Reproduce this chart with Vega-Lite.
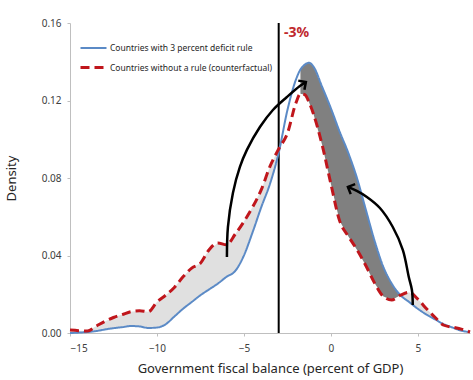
{
  "$schema": "https://vega.github.io/schema/vega-lite/v6.json",
  "width": 400,
  "height": 310,
  "autosize": "none",
  "padding": {"left": 70, "top": 23, "right": 3, "bottom": 47},
  "background": "white",
  "config": {
    "view": {"stroke": null},
    "font": "Noto Sans",
    "axis": {"grid": false, "domainColor": "#bfbfbf", "tickColor": "#bfbfbf", "labelColor": "#404040", "labelFont": "Noto Sans", "titleFont": "Noto Sans", "titleFontWeight": "normal", "titleColor": "#262626"}
  },
  "datasets": {
    "dens": [
      {"x": -15, "with": 0.0000, "without": 0.0015},
      {"x": -14.5, "with": 0.0002, "without": 0.0012},
      {"x": -14, "with": 0.0005, "without": 0.0010},
      {"x": -13.5, "with": 0.0010, "without": 0.0035},
      {"x": -13, "with": 0.0018, "without": 0.0060},
      {"x": -12.5, "with": 0.0025, "without": 0.0080},
      {"x": -12, "with": 0.0030, "without": 0.0095},
      {"x": -11.5, "with": 0.0036, "without": 0.0110},
      {"x": -11, "with": 0.0034, "without": 0.0115},
      {"x": -10.5, "with": 0.0026, "without": 0.0110},
      {"x": -10, "with": 0.0028, "without": 0.0160},
      {"x": -9.5, "with": 0.0045, "without": 0.0195},
      {"x": -9, "with": 0.0085, "without": 0.0235},
      {"x": -8.5, "with": 0.0125, "without": 0.0290},
      {"x": -8, "with": 0.0160, "without": 0.0335},
      {"x": -7.5, "with": 0.0195, "without": 0.0360},
      {"x": -7, "with": 0.0225, "without": 0.0430},
      {"x": -6.5, "with": 0.0255, "without": 0.0465},
      {"x": -6, "with": 0.0290, "without": 0.0455},
      {"x": -5.5, "with": 0.0320, "without": 0.0510},
      {"x": -5, "with": 0.0400, "without": 0.0575},
      {"x": -4.5, "with": 0.0520, "without": 0.0650},
      {"x": -4, "with": 0.0650, "without": 0.0740},
      {"x": -3.5, "with": 0.0770, "without": 0.0860},
      {"x": -3, "with": 0.0930, "without": 0.0950},
      {"x": -2.5, "with": 0.1150, "without": 0.1030},
      {"x": -2, "with": 0.1310, "without": 0.1190},
      {"x": -1.75, "with": 0.1360, "without": 0.1235},
      {"x": -1.5, "with": 0.1385, "without": 0.1230},
      {"x": -1.25, "with": 0.1395, "without": 0.1190},
      {"x": -1, "with": 0.1375, "without": 0.1130},
      {"x": -0.5, "with": 0.1270, "without": 0.0970},
      {"x": 0, "with": 0.1160, "without": 0.0770},
      {"x": 0.5, "with": 0.1040, "without": 0.0580},
      {"x": 1, "with": 0.0930, "without": 0.0500},
      {"x": 1.5, "with": 0.0800, "without": 0.0430},
      {"x": 2, "with": 0.0640, "without": 0.0350},
      {"x": 2.5, "with": 0.0480, "without": 0.0260},
      {"x": 3, "with": 0.0345, "without": 0.0190},
      {"x": 3.5, "with": 0.0255, "without": 0.0170},
      {"x": 4, "with": 0.0195, "without": 0.0195},
      {"x": 4.5, "with": 0.0160, "without": 0.0210},
      {"x": 5, "with": 0.0125, "without": 0.0175},
      {"x": 5.5, "with": 0.0095, "without": 0.0125},
      {"x": 6, "with": 0.0070, "without": 0.0080},
      {"x": 6.5, "with": 0.0045, "without": 0.0040},
      {"x": 7, "with": 0.0028, "without": 0.0030},
      {"x": 7.5, "with": 0.0012, "without": 0.0020},
      {"x": 8, "with": 0.0005, "without": 0.0005}
    ],
    "arrows": [
      {"arrow": "a", "o": 1, "x": -5.977, "y": 0.0392},
      {"arrow": "a", "o": 2, "x": -5.920, "y": 0.0547},
      {"arrow": "a", "o": 3, "x": -5.632, "y": 0.0723},
      {"arrow": "a", "o": 4, "x": -5.230, "y": 0.0857},
      {"arrow": "a", "o": 5, "x": -4.828, "y": 0.0945},
      {"arrow": "a", "o": 6, "x": -4.080, "y": 0.1063},
      {"arrow": "a", "o": 7, "x": -3.333, "y": 0.1151},
      {"arrow": "a", "o": 8, "x": -2.529, "y": 0.1218},
      {"arrow": "a", "o": 9, "x": -1.782, "y": 0.1275},
      {"arrow": "a", "o": 10, "x": -1.437, "y": 0.1295},
      {"arrow": "b", "o": 1, "x": 4.71, "y": 0.0145},
      {"arrow": "b", "o": 2, "x": 4.66, "y": 0.0222},
      {"arrow": "b", "o": 3, "x": 4.48, "y": 0.0289},
      {"arrow": "b", "o": 4, "x": 4.14, "y": 0.0428},
      {"arrow": "b", "o": 5, "x": 3.56, "y": 0.0547},
      {"arrow": "b", "o": 6, "x": 2.82, "y": 0.0645},
      {"arrow": "b", "o": 7, "x": 2.07, "y": 0.0702},
      {"arrow": "b", "o": 8, "x": 1.49, "y": 0.0733},
      {"arrow": "b", "o": 9, "x": 0.98, "y": 0.0754}
    ],
    "heads": [
      {"x": -1.437, "y": 0.1295, "angle": 326},
      {"x": 0.98, "y": 0.0754, "angle": 204}
    ],
    "ref": [
      {"x": -3, "label": "-3%", "lx": -2.7, "ly": 0.155}
    ]
  },
  "layer": [
    {
      "data": {"name": "dens"},
      "transform": [{"filter": "datum.x <= -3"}],
      "mark": {"type": "area", "color": "#e0e0e0", "opacity": 1},
      "encoding": {
        "x": {"field": "x", "type": "quantitative", "scale": {"domain": [-15, 8], "nice": false, "zero": false},
          "axis": {"values": [-15, -10, -5, 0, 5], "title": "Government fiscal balance (percent of GDP)", "titleFontSize": 13, "labelFontSize": 10, "tickSize": 3, "labelPadding": 7, "titlePadding": 9}},
        "y": {"field": "without", "type": "quantitative", "scale": {"domain": [0, 0.16], "nice": false},
          "axis": {"values": [0, 0.04, 0.08, 0.12, 0.16], "format": ".2f", "title": "Density", "titleFontSize": 13, "labelFontSize": 10, "tickSize": 3, "labelPadding": 6, "titlePadding": 23}},
        "y2": {"field": "with"}
      }
    },
    {
      "data": {"name": "dens"},
      "transform": [{"filter": "datum.x >= -1.75 && datum.x <= 4"}],
      "mark": {"type": "area", "color": "#808080", "opacity": 1},
      "encoding": {
        "x": {"field": "x", "type": "quantitative"},
        "y": {"field": "with", "type": "quantitative"},
        "y2": {"field": "without"}
      }
    },
    {
      "data": {"name": "dens"},
      "transform": [{"filter": "datum.x >= 4 && datum.x <= 6.5"}],
      "mark": {"type": "area", "color": "#e0e0e0", "opacity": 1},
      "encoding": {
        "x": {"field": "x", "type": "quantitative"},
        "y": {"field": "without", "type": "quantitative"},
        "y2": {"field": "with"}
      }
    },
    {
      "data": {"name": "ref"},
      "mark": {"type": "rule", "color": "black", "strokeWidth": 2},
      "encoding": {
        "x": {"field": "x", "type": "quantitative"},
        "y": {"datum": 0, "type": "quantitative"},
        "y2": {"datum": 0.16}
      }
    },
    {
      "data": {"name": "dens"},
      "transform": [{"fold": ["with", "without"], "as": ["series", "value"]}],
      "mark": {"type": "line", "strokeCap": "butt", "interpolate": "monotone"},
      "encoding": {
        "x": {"field": "x", "type": "quantitative"},
        "y": {"field": "value", "type": "quantitative"},
        "color": {"field": "series", "type": "nominal",
          "scale": {"domain": ["with", "without"], "range": ["#5b8ac6", "#c0161c"]},
          "legend": {"title": null, "orient": "none", "legendX": 9, "legendY": 11, "symbolType": "stroke", "symbolSize": 676, "symbolStrokeWidth": 2.5, "labelFontSize": 8.5, "labelLimit": 0, "labelColor": "#262626", "labelOffset": 2, "rowPadding": -7,
            "labelExpr": "datum.value == 'with' ? 'Countries with 3 percent deficit rule' : 'Countries without a rule (counterfactual)'"}},
        "strokeDash": {"field": "series", "type": "nominal",
          "scale": {"domain": ["with", "without"], "range": [[1, 0], [9, 5]]},
          "legend": {"title": null, "orient": "none", "legendX": 9, "legendY": 11, "symbolType": "stroke", "symbolSize": 676, "symbolStrokeWidth": 2.5, "labelFontSize": 8.5, "labelLimit": 0, "labelColor": "#262626", "labelOffset": 2, "rowPadding": -7,
            "labelExpr": "datum.value == 'with' ? 'Countries with 3 percent deficit rule' : 'Countries without a rule (counterfactual)'"}},
        "strokeWidth": {"field": "series", "type": "nominal", "scale": {"domain": ["with", "without"], "range": [2, 3]}, "legend": null}
      }
    },
    {
      "data": {"name": "ref"},
      "mark": {"type": "text", "color": "#c0282d", "fontWeight": "bold", "fontSize": 14, "align": "left", "baseline": "middle"},
      "encoding": {
        "x": {"field": "lx", "type": "quantitative"},
        "y": {"field": "ly", "type": "quantitative"},
        "text": {"field": "label"}
      }
    },
    {
      "data": {"name": "arrows"},
      "mark": {"type": "line", "color": "black", "strokeWidth": 2.5, "interpolate": "catmull-rom"},
      "encoding": {
        "x": {"field": "x", "type": "quantitative"},
        "y": {"field": "y", "type": "quantitative"},
        "detail": {"field": "arrow"},
        "order": {"field": "o"}
      }
    },
    {
      "data": {"name": "heads"},
      "mark": {"type": "point", "shape": "M-1,-1L0,0L-1,1", "filled": false, "stroke": "black", "strokeWidth": 2.5, "size": 120, "opacity": 1},
      "encoding": {
        "x": {"field": "x", "type": "quantitative"},
        "y": {"field": "y", "type": "quantitative"},
        "angle": {"field": "angle", "type": "quantitative", "scale": null}
      }
    }
  ]
}
